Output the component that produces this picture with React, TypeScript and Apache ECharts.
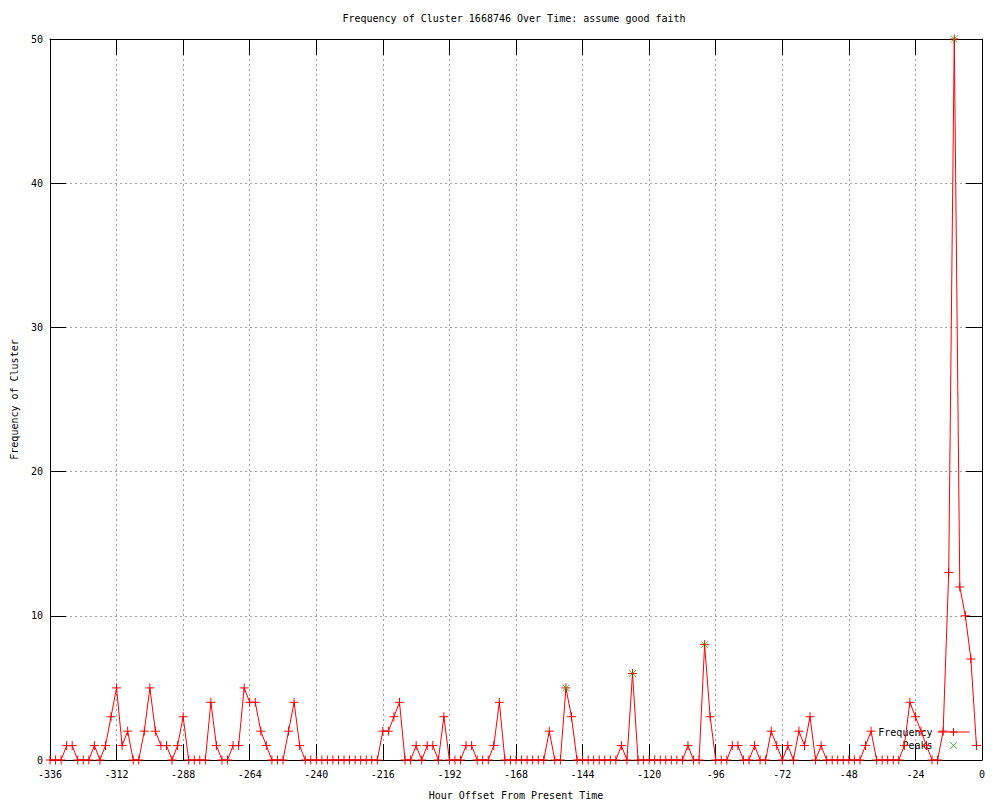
import React, { useEffect, useRef } from "react";
import * as echarts from "echarts";

const titleText = "Frequency of Cluster 1668746 Over Time: assume good faith";
const xAxisName = "Hour Offset From Present Time";
const yAxisName = "Frequency of Cluster";

const hours = [
  -336, -334, -332, -330, -328, -326, -324, -322, -320, -318, -316, -314,
  -312, -310, -308, -306, -304, -302, -300, -298, -296, -294, -292, -290,
  -288, -286, -284, -282, -280, -278, -276, -274, -272, -270, -268, -266,
  -264, -262, -260, -258, -256, -254, -252, -250, -248, -246, -244, -242,
  -240, -238, -236, -234, -232, -230, -228, -226, -224, -222, -220, -218,
  -216, -214, -212, -210, -208, -206, -204, -202, -200, -198, -196, -194,
  -192, -190, -188, -186, -184, -182, -180, -178, -176, -174, -172, -170,
  -168, -166, -164, -162, -160, -158, -156, -154, -152, -150, -148, -146,
  -144, -142, -140, -138, -136, -134, -132, -130, -128, -126, -124, -122,
  -120, -118, -116, -114, -112, -110, -108, -106, -104, -102, -100, -98,
  -96, -94, -92, -90, -88, -86, -84, -82, -80, -78, -76, -74,
  -72, -70, -68, -66, -64, -62, -60, -58, -56, -54, -52, -50,
  -48, -46, -44, -42, -40, -38, -36, -34, -32, -30, -28, -26,
  -24, -22, -20, -18, -16, -14, -12, -10, -8, -6, -4, -2,
];

const frequency = [
  0, 0, 0, 1, 1, 0, 0, 0, 1, 0, 1, 3,
  5, 1, 2, 0, 0, 2, 5, 2, 1, 1, 0, 1,
  3, 0, 0, 0, 0, 4, 1, 0, 0, 1, 1, 5,
  4, 4, 2, 1, 0, 0, 0, 2, 4, 1, 0, 0,
  0, 0, 0, 0, 0, 0, 0, 0, 0, 0, 0, 0,
  2, 2, 3, 4, 0, 0, 1, 0, 1, 1, 0, 3,
  0, 0, 0, 1, 1, 0, 0, 0, 1, 4, 0, 0,
  0, 0, 0, 0, 0, 0, 2, 0, 0, 5, 3, 0,
  0, 0, 0, 0, 0, 0, 0, 1, 0, 6, 0, 0,
  0, 0, 0, 0, 0, 0, 0, 1, 0, 0, 8, 3,
  0, 0, 0, 1, 1, 0, 0, 1, 0, 0, 2, 1,
  0, 1, 0, 2, 1, 3, 0, 1, 0, 0, 0, 0,
  0, 0, 0, 1, 2, 0, 0, 0, 0, 0, 1, 4,
  3, 2, 1, 0, 0, 2, 13, 50, 12, 10, 7, 1,
];

const peakHours = [-150, -126, -100, -10];
const peakValues = [5, 6, 8, 50];

const FONT = "DejaVu Sans Mono";
const RED = "#ff0000";
const GREEN = "#00c000";
const PLUS = "path://M0,5L10,5M5,0L5,10";
const CROSS = "path://M0,0L10,10M10,0L0,10";
const CROSS_LEGEND = "path://M0,0M12,12M2,2L10,10M10,2L2,10";

export default function App() {
  const ref = useRef<HTMLDivElement>(null);

  useEffect(() => {
    if (!ref.current) return;
    const chart = echarts.init(ref.current, null, { renderer: "svg" });

    const frame = () => ({
      type: "value" as const,
      z: 3,
      axisLine: { show: true, onZero: false, lineStyle: { color: "#000000", width: 1 } },
      axisTick: { show: true, inside: true, length: 16, lineStyle: { color: "#000000", width: 1 } },
      splitLine: { show: false },
    });
    const gridOnly = () => ({
      type: "value" as const,
      z: 0,
      axisLine: { show: false },
      axisTick: { show: false },
      axisLabel: { show: false },
      splitLine: {
        show: true,
        showMinLine: false,
        showMaxLine: false,
        lineStyle: { color: "#a0a0a0", width: 1, type: [2, 3] },
      },
    });
    const labelStyle = () => ({ color: "#000", fontFamily: FONT, fontSize: 10 });

    const option: any = {
      animation: false,
      backgroundColor: "#ffffff",
      textStyle: { fontFamily: FONT, fontSize: 10, color: "#000" },
      title: {
        text: titleText,
        left: 514,
        top: 13,
        padding: 0,
        textAlign: "center",
        textStyle: { fontFamily: FONT, fontSize: 10, fontWeight: "normal", color: "#000" },
      },
      grid: {
        left: 50,
        top: 39,
        width: 932,
        height: 721,
        containLabel: false,
        outerBoundsMode: "none",
      },
      legend: {
        orient: "vertical",
        align: "right",
        right: 30,
        top: 727,
        padding: 0,
        itemWidth: 32,
        itemHeight: 10,
        itemGap: 3,
        selectedMode: false,
        lineStyle: { width: 1 },
        itemStyle: { borderWidth: 1 },
        textStyle: { fontFamily: FONT, fontSize: 10, color: "#000" },
        data: ["Frequency", { name: "Peaks", icon: CROSS_LEGEND }],
      },
      xAxis: [
        {
          ...frame(),
          position: "bottom",
          min: -336,
          max: 0,
          interval: 24,
          name: xAxisName,
          nameLocation: "middle",
          nameGap: 30,
          nameTextStyle: labelStyle(),
          axisLabel: { margin: 9, ...labelStyle() },
        },
        {
          ...frame(),
          position: "top",
          min: -336,
          max: 0,
          interval: 24,
          axisLabel: { show: false },
        },
        {
          ...gridOnly(),
          position: "bottom",
          min: -336,
          max: 0,
          interval: 24,
        },
      ],
      yAxis: [
        {
          ...frame(),
          position: "left",
          min: 0,
          max: 50,
          interval: 10,
          name: yAxisName,
          nameLocation: "middle",
          nameGap: 31,
          nameTextStyle: labelStyle(),
          axisLabel: { margin: 7, ...labelStyle() },
        },
        {
          ...frame(),
          position: "right",
          min: 0,
          max: 50,
          interval: 10,
          axisLabel: { show: false },
        },
        {
          ...gridOnly(),
          position: "left",
          min: 0,
          max: 50,
          interval: 10,
        },
      ],
      series: [
        {
          name: "Frequency",
          type: "line",
          xAxisIndex: 0,
          yAxisIndex: 0,
          data: hours.map((h, i) => [h, frequency[i]]),
          symbol: PLUS,
          symbolSize: 9,
          showSymbol: true,
          showAllSymbol: true,
          lineStyle: { color: RED, width: 1 },
          itemStyle: { color: RED, borderColor: RED, borderWidth: 1 },
          emphasis: { disabled: true },
          silent: true,
          z: 4,
        },
        {
          name: "Peaks",
          type: "scatter",
          xAxisIndex: 0,
          yAxisIndex: 0,
          data: peakHours.map((h, i) => [h, peakValues[i]]),
          symbol: CROSS,
          symbolSize: 7,
          symbolKeepAspect: true,
          itemStyle: { color: GREEN, borderColor: GREEN, borderWidth: 1 },
          emphasis: { disabled: true },
          silent: true,
          z: 5,
        },
      ],
    };

    chart.setOption(option);
    return () => chart.dispose();
  }, []);

  return (
    <div
      ref={ref}
      style={{ position: "absolute", left: 0, top: 0, width: 1000, height: 800 }}
    />
  );
}
